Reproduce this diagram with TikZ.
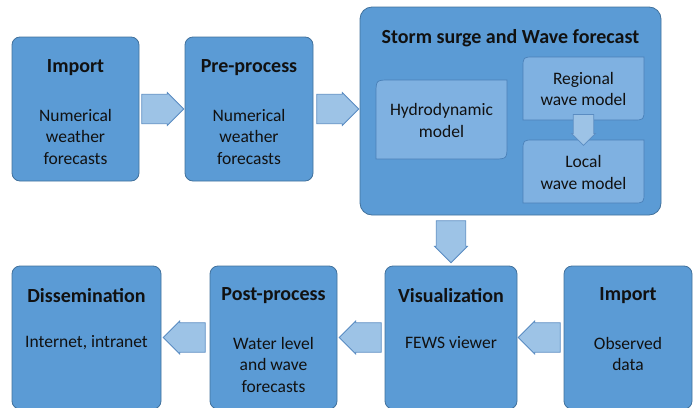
\documentclass[tikz,border=0pt]{standalone}
\usepackage{fontspec}
\setmainfont{Carlito}
\usetikzlibrary{shapes.arrows,calc}
\definecolor{boxfill}{HTML}{5B9BD5}
\definecolor{boxline}{HTML}{41719C}
\definecolor{innerfill}{HTML}{7FB1E1}
\definecolor{innerline}{HTML}{4A80B8}
\definecolor{arrowfill}{HTML}{9DC3E6}
\definecolor{arrowline}{HTML}{5A8CC2}
\definecolor{txt}{HTML}{111111}
\begin{document}
\begin{tikzpicture}[x=1pt,y=-1pt,
  box/.style={draw=boxline, fill=boxfill, line width=0.8pt, rounded corners=8pt, inner sep=0pt},
  innerbox/.style={draw=innerline, fill=innerfill, line width=0.7pt},
  ghost/.style={inner sep=0pt, outer sep=0pt},
  title/.style={font=\fontsize{20}{24}\selectfont\bfseries, align=center, inner sep=0pt, text=txt},
  body/.style={font=\fontsize{17.5}{21.5}\selectfont, align=center, inner sep=0pt, text=txt},
  blockarrow/.style={single arrow, draw=arrowline, fill=arrowfill, line width=0.8pt,
    minimum width=33pt, single arrow head extend=1pt, inner xsep=0pt, inner ysep=7.8pt,
    text height=0pt, text depth=0pt, minimum height=42pt, anchor=tail},
  smallarrow/.style={blockarrow, minimum width=24pt, inner ysep=5.5pt, minimum height=31pt},
]
\useasboundingbox (0,0) rectangle (696,407);
\clip (0,0) rectangle (696,407);

% ---- top row
\node[box, minimum width=127pt, minimum height=144pt] (imp1) at (75.5,109) {};
\node[title] (imp1t) at (75.5,68) {Import};
\node[body] (imp1b) at (75.5,136.5) {Numerical\\weather\\forecasts};

\node[box, minimum width=128pt, minimum height=144pt] (pre) at (249,109) {};
\node[title] (pret) at (249,68) {Pre-process};
\node[body] (preb) at (249,136.5) {Numerical\\weather\\forecasts};

\node[box, rounded corners=12pt, minimum width=301pt, minimum height=208pt] (storm) at (510.5,111) {};
\node[title] (stormt) at (510.5,38.5) {Storm surge and Wave forecast};

% inner boxes
\node[ghost, minimum width=131pt, minimum height=79pt] (hydro) at (441.5,119.5) {};
\node[ghost, minimum width=121pt, minimum height=63pt] (reg) at (583.5,88.5) {};
\node[ghost, minimum width=121pt, minimum height=63pt] (loc) at (583.5,171.5) {};
\foreach \n/\r in {hydro/14,reg/11,loc/11}{
  \draw[innerbox] (\n.south west) -- ($(\n.north west)+(0,\r)$) .. controls (\n.north west) .. ($(\n.north west)+(\r,0)$)
    -- (\n.north east) -- ($(\n.south east)+(0,-\r)$) .. controls (\n.south east) .. ($(\n.south east)+(-\r,0)$) -- cycle;
}
\node[body] (hydrot) at (441.5,120.5) {Hydrodynamic\\model};
\node[body] (regt) at (583.5,89) {Regional\\wave model};
\node[body] (loct) at (583.5,172.5) {Local\\wave model};
\node[smallarrow, rotate=-90] (sa) at ($(reg.south)+(0,-6)$) {};

\node[blockarrow] (a1) at ($(imp1.east)+(2,0)$) {};
\node[blockarrow] (a2) at ($(pre.east)+(3,0)$) {};

% ---- bottom row
\node[box, minimum width=149pt, minimum height=143pt] (diss) at (86.5,337.5) {};
\node[title] (disst) at (86.5,296) {Dissemination};
\node[body] (dissb) at (86.5,343) {Internet, intranet};

\node[box, minimum width=127pt, minimum height=143pt] (post) at (273.5,337.5) {};
\node[title] (postt) at (273.5,296) {Post-process};
\node[body] (postb) at (273.5,364.5) {Water level\\and wave\\forecasts};

\node[box, minimum width=132pt, minimum height=143pt] (vis) at (451,337.5) {};
\node[title] (vist) at (451,296) {Visualization};
\node[body] (visb) at (451,343) {FEWS viewer};

\node[box, minimum width=128pt, minimum height=143pt] (imp2) at (628,337.5) {};
\node[title] (imp2t) at (628,296) {Import};
\node[body] (imp2b) at (628,354) {Observed\\data};

\coordinate (d0s) at (vis.north |- storm.south);
\node[blockarrow, rotate=-90] (d0) at ($(d0s)+(0,5)$) {};
\node[blockarrow, rotate=180] (d1) at ($(post.west)+(-4,0)$) {};
\node[blockarrow, rotate=180] (d2) at ($(vis.west)+(-3,0)$) {};
\node[blockarrow, rotate=180] (d3) at ($(imp2.west)+(-3,0)$) {};
\end{tikzpicture}
\end{document}
